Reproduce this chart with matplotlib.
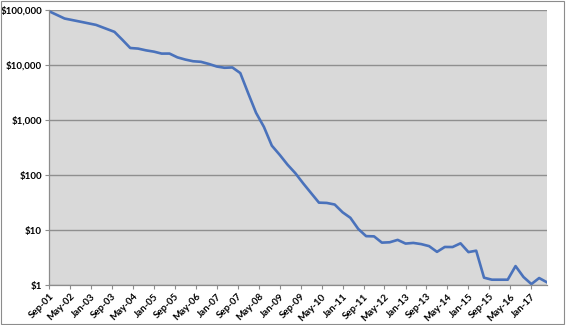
import matplotlib
matplotlib.use('Agg')
import matplotlib.pyplot as plt
import matplotlib.dates as mdates
from matplotlib.ticker import FixedLocator, FuncFormatter
from matplotlib.patches import Rectangle
import pandas as pd

plt.rcParams['font.family'] = ['Lato', 'DejaVu Sans']

# cost (log axis)
dates = ['2001-09', '2002-03', '2002-09', '2003-03', '2003-10', '2004-01', '2004-04',
         '2004-07', '2004-10', '2005-01', '2005-04', '2005-07', '2005-10', '2006-01',
         '2006-04', '2006-07', '2006-10', '2007-01', '2007-04', '2007-07', '2007-10',
         '2008-01', '2008-04', '2008-07', '2008-10', '2009-01', '2009-04', '2009-07',
         '2009-10', '2010-01', '2010-04', '2010-07', '2010-10', '2011-01', '2011-04',
         '2011-07', '2011-10', '2012-01', '2012-04', '2012-07', '2012-10', '2013-01',
         '2013-04', '2013-07', '2013-10', '2014-01', '2014-04', '2014-07', '2014-10',
         '2015-01', '2015-04', '2015-07', '2015-10', '2016-01', '2016-04', '2016-07',
         '2016-10', '2017-01', '2017-04', '2017-07']
values = [95263, 70175, 61448, 53752, 40158, 28780, 20443,
          19934, 18519, 17535, 16160, 16180, 13801, 12586,
          11733, 11455, 10475, 9409, 8927, 9047, 7148,
          3064, 1353, 752, 342.5, 232.7, 154.7, 108.1,
          70.3, 46.8, 31.5, 31.1, 29.1, 21.0, 16.7,
          10.5, 7.74, 7.67, 5.90, 5.99, 6.62, 5.67,
          5.83, 5.55, 5.10, 4.01, 4.92, 4.91, 5.73,
          3.97, 4.21, 1.36, 1.25, 1.25, 1.25, 2.21,
          1.40, 1.04, 1.34, 1.12]

x = pd.to_datetime(dates)
tick_dates = pd.date_range('2001-09-01', '2017-01-01', freq='8MS')
y_ticks = [1, 10, 100, 1000, 10000, 100000]

fig = plt.figure(figsize=(5.66, 3.25), dpi=100)
fig.patches.append(Rectangle((0.002, 0.004), 0.995, 0.993, transform=fig.transFigure,
                             fill=False, edgecolor='#8c8c8c', linewidth=0.8))
ax = fig.add_axes([0.0866, 0.123, 0.8798, 0.846])
ax.set_facecolor('#d9d9d9')

ax.plot(x, values, color='#4a72bb', linewidth=1.9, solid_joinstyle='round')

ax.set_yscale('log')
ax.set_ylim(1, 100000)
ax.yaxis.set_major_locator(FixedLocator(y_ticks))
ax.yaxis.set_minor_locator(FixedLocator([]))
ax.yaxis.set_major_formatter(FuncFormatter(lambda v, p: '${:,.0f}'.format(v)))
ax.grid(axis='y', color='#8f8f8f', linewidth=1.0)
ax.set_axisbelow(True)

ax.set_xlim(pd.Timestamp('2001-09-01'), pd.Timestamp('2017-07-01'))
ax.set_xticks(tick_dates)
ax.set_xticklabels([d.strftime('%b-%y') for d in tick_dates], rotation=45,
                   ha='right', rotation_mode='anchor')

for s in ['top', 'right']:
    ax.spines[s].set_visible(False)
for s in ['left', 'bottom']:
    ax.spines[s].set_color('#8c8c8c')
    ax.spines[s].set_linewidth(0.9)

ax.tick_params(axis='both', labelsize=7, color='#8c8c8c', length=3, width=0.8, pad=2)
for lbl in ax.get_xticklabels() + ax.get_yticklabels():
    lbl.set_fontweight('bold')

fig.savefig('out.png', dpi=100)
